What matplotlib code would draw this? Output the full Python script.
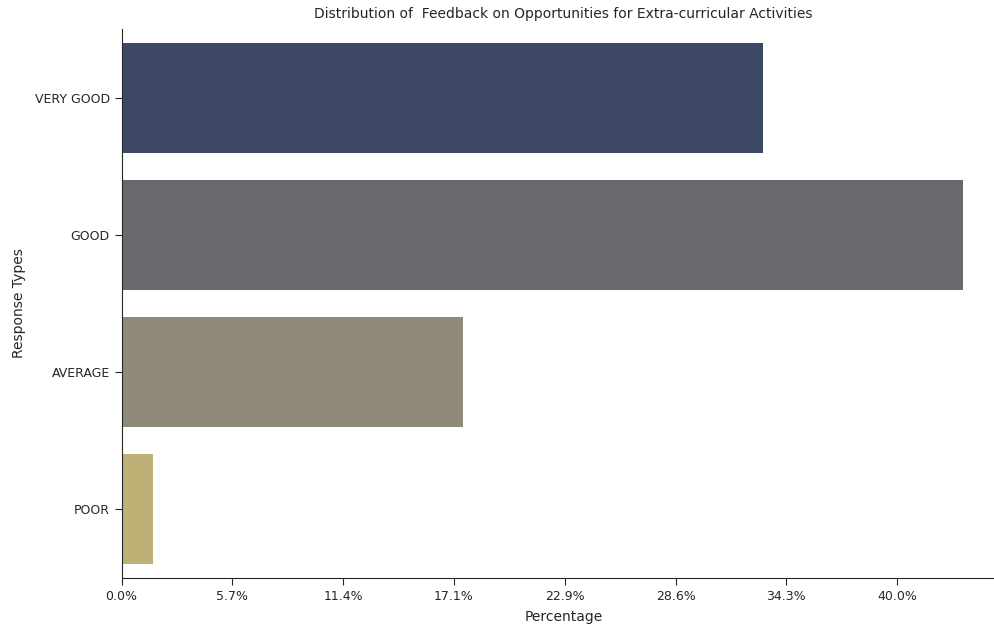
import numpy as np
import matplotlib
matplotlib.use("Agg")
import matplotlib.pyplot as plt

categories = ["VERY GOOD", "GOOD", "AVERAGE", "POOR"]
percentages = [33.08, 43.39, 17.62, 1.64]
bar_colors = ["#3d4866", "#69686d", "#8f8a7a", "#bdb175"]
tick_values = [i * 40 / 7 for i in range(8)]
tick_labels = ["0.0%", "5.7%", "11.4%", "17.1%", "22.9%", "28.6%", "34.3%", "40.0%"]

W, H = 995, 627
fig = plt.figure(figsize=(W / 100, H / 100), dpi=100)
left, right, bottom, top = 121.5, 1005, 578, 29
ax = fig.add_axes([left / W, (H - bottom) / H, (right - left) / W, (bottom - top) / H])

y = np.arange(len(categories))
ax.barh(y, percentages, height=0.8, color=bar_colors, linewidth=0)
ax.set_ylim(len(categories) - 0.5, -0.5)
ax.set_xlim(0, max(percentages) * 1.05)
ax.set_yticks(y)
ax.set_yticklabels(categories, fontsize=9)
ax.set_xticks(tick_values)
ax.set_xticklabels(tick_labels, fontsize=9)
ax.tick_params(axis="both", length=5, color="#262626", labelcolor="#262626")
ax.spines["top"].set_visible(False)
ax.spines["right"].set_visible(False)
for s in ("left", "bottom"):
    ax.spines[s].set_color("#262626")
ax.set_xlabel("Percentage", fontsize=10, labelpad=5, color="#262626")
ax.set_ylabel("Response Types", fontsize=10, labelpad=6, color="#262626")
ax.set_title("Distribution of  Feedback on Opportunities for Extra-curricular Activities",
             fontsize=10, pad=8, color="#262626")

fig.savefig("out.png", dpi=100)
